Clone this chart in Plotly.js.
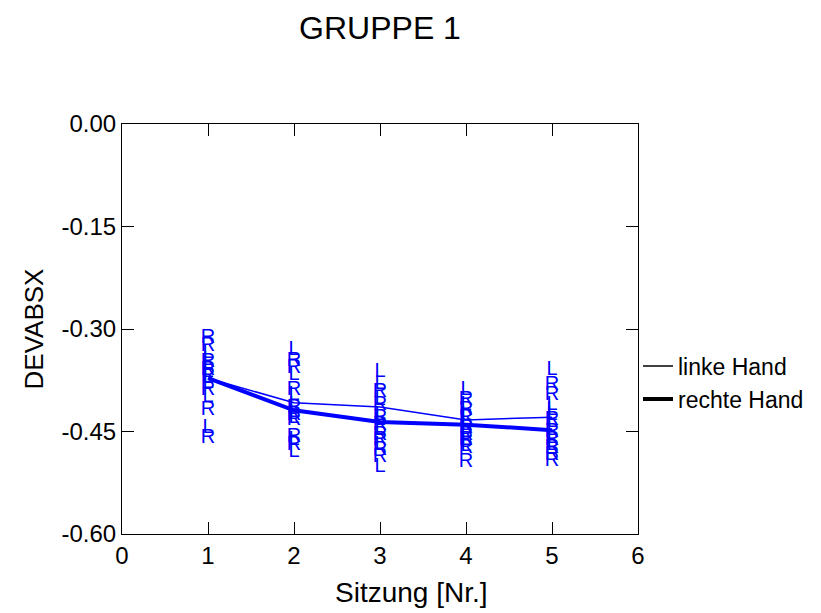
<!DOCTYPE html>
<html>
<head>
<meta charset="utf-8">
<script src="https://cdn.plot.ly/plotly-3.0.1.min.js"></script>
<style>html,body{margin:0;padding:0;background:#fff;}</style>
</head>
<body>
<div id="chart" style="width:821px;height:613px;"></div>
<script>
const sessions = [1, 2, 3, 4, 5];
const meanLinks = [-0.372, -0.408, -0.414, -0.433, -0.429];
const meanRechts = [-0.372, -0.419, -0.436, -0.440, -0.448];

const linksS1 = [-0.335, -0.345, -0.353, -0.363, -0.372, -0.379, -0.400, -0.445];
const linksS2 = [-0.331, -0.367, -0.397, -0.411, -0.421, -0.430, -0.462, -0.480];
const linksS3 = [-0.363, -0.381, -0.404, -0.426, -0.433, -0.448, -0.470, -0.502];
const linksS4 = [-0.389, -0.411, -0.426, -0.433, -0.440, -0.451, -0.462, -0.471];
const linksS5 = [-0.360, -0.411, -0.419, -0.426, -0.436, -0.448, -0.460, -0.470];

const rechtsS1 = [-0.313, -0.325, -0.348, -0.360, -0.369, -0.389, -0.419, -0.460];
const rechtsS2 = [-0.347, -0.357, -0.389, -0.416, -0.426, -0.433, -0.458, -0.470];
const rechtsS3 = [-0.392, -0.411, -0.430, -0.440, -0.455, -0.462, -0.477, -0.487];
const rechtsS4 = [-0.404, -0.419, -0.430, -0.445, -0.455, -0.462, -0.474, -0.495];
const rechtsS5 = [-0.382, -0.397, -0.433, -0.451, -0.462, -0.474, -0.484, -0.493];

const yTickVals = [-0.6, -0.45, -0.3, -0.15, 0];
const yTickText = ['-0.60', '-0.45', '-0.30', '-0.15', '0.00'];

const linksAll = [linksS1, linksS2, linksS3, linksS4, linksS5];
const rechtsAll = [rechtsS1, rechtsS2, rechtsS3, rechtsS4, rechtsS5];

const BLUE = '#0000ff';
const FONT = 'Liberation Sans, Arial, sans-serif';

function textTrace(all, letter) {
  const x = [], y = [], t = [];
  all.forEach((vals, i) => vals.forEach(v => { x.push(sessions[i]); y.push(v); t.push(letter); }));
  return {x, y, text: t, mode: 'text', type: 'scatter', showlegend: false,
    textfont: {family: FONT, size: 20, color: BLUE}, textposition: 'middle center', hoverinfo: 'skip'};
}

const traces = [
  textTrace(linksAll, 'L'),
  textTrace(rechtsAll, 'R'),
  {x: sessions, y: meanLinks, mode: 'lines', type: 'scatter', showlegend: false,
   line: {color: BLUE, width: 1.5}},
  {x: sessions, y: meanRechts, mode: 'lines', type: 'scatter', showlegend: false,
   line: {color: BLUE, width: 4}},
  {x: [null], y: [null], mode: 'lines', type: 'scatter', name: 'linke Hand',
   line: {color: '#000', width: 1.5}},
  {x: [null], y: [null], mode: 'lines', type: 'scatter', name: 'rechte Hand',
   line: {color: '#000', width: 4}}
];

const layout = {
  width: 821, height: 613,
  paper_bgcolor: '#fff', plot_bgcolor: '#fff',
  font: {family: FONT, color: '#000', size: 24},
  margin: {l: 122, r: 183, t: 124, b: 79, autoexpand: false},
  title: {text: 'GRUPPE 1', font: {family: FONT, size: 32, color: '#000'},
    x: 0.5, xref: 'paper', y: 1 - 28 / 613, yref: 'container', yanchor: 'middle'},
  xaxis: {range: [0, 6], dtick: 1, tick0: 0, ticks: 'inside', ticklen: 12, tickcolor: '#000',
    showline: true, linecolor: '#000', linewidth: 1, mirror: 'ticks', showgrid: false, zeroline: false,
    tickfont: {size: 24}},
  yaxis: {range: [-0.6, 0], tickmode: 'array', tickvals: yTickVals, ticktext: yTickText,
    ticks: 'inside', ticklen: 12, tickcolor: '#000',
    showline: true, linecolor: '#000', linewidth: 1, mirror: 'ticks', showgrid: false, zeroline: false,
    tickfont: {size: 24}, title: {text: 'DEVABSX', font: {size: 26}, standoff: 10}},
  annotations: [{text: 'Sitzung [Nr.]', xref: 'paper', yref: 'paper', x: (411 - 122) / 516,
    y: -(592 - 534) / 410, xanchor: 'center', yanchor: 'middle', showarrow: false,
    font: {family: FONT, size: 28, color: '#000'}}],
  legend: {x: 1.0, xanchor: 'left', y: 0.462, yanchor: 'top', font: {size: 23},
    bgcolor: 'rgba(0,0,0,0)', borderwidth: 0, tracegroupgap: 0, itemwidth: 30},
  showlegend: true
};

Plotly.newPlot('chart', traces, layout, {displayModeBar: false, staticPlot: true});
</script>
</body>
</html>
